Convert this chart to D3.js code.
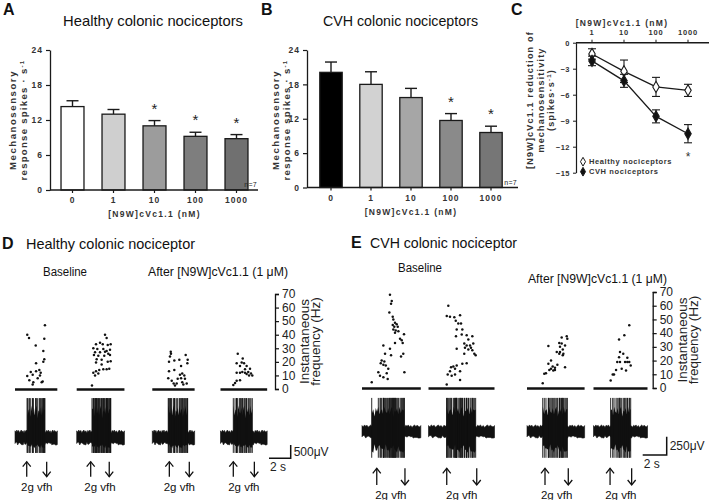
<!DOCTYPE html>
<html><head><meta charset="utf-8">
<script src="https://cdn.jsdelivr.net/npm/d3@7"></script>
<style>
body{margin:0;background:#fff}
svg{display:block}
text{font-family:Arial,"Liberation Sans",sans-serif}
</style>
</head><body><script>
// ---------------- DATA ----------------
const concLabels = ["0","1","10","100","1000"];
const barTicks = [0,6,12,18,24];
const healthyMean = [14.3,13.0,11.0,9.2,8.8];
const healthySem  = [1.0,0.8,0.9,0.7,0.7];
const healthySig  = [false,false,true,true,true];
const cvhMean = [20.1,18.0,15.7,11.7,9.6];
const cvhSem  = [1.8,2.2,1.6,1.2,1.1];
const cvhSig  = [false,false,false,true,true];
const healthyBarColors = ["#ffffff","#cfcfcf","#9c9c9c","#7e7e7e","#707070"];
const cvhBarColors = ["#000000","#d2d2d2","#a6a6a6","#8a8a8a","#767676"];

const reductionDoses = [1,10,100,1000];
const reductionDoseLabels = ["1","10","100","1000"];
const reductionTicks = [0,-3,-6,-9,-12,-15];
const healthyReduction = [-1.3,-3.3,-5.1,-5.5];
const healthyReductionSem = [0.6,1.3,1.1,0.7];
const cvhReduction = [-2.1,-4.4,-8.5,-10.5];
const cvhReductionSem = [0.55,0.75,0.75,1.05];

const freqTicks = [0,10,20,30,40,50,60,70];

// spike times (s from trace start) and instantaneous frequency (Hz)
const healthyRasters = [
 [[2.76,47],[1.13,40],[1.29,37.5],[2.70,37],[1.91,32],[2.61,28],[2.70,22],[2.61,20],[1.94,19],[2.24,14],[1.94,13],[2.37,12],[1.45,12.5],[1.63,10.5],[1.13,9.5],[2.30,10],[2.09,8],[1.32,6.5],[1.69,5],[2.55,5.5],[2.46,5],[1.63,3.3]],
 [[2.61,40],[2.76,37.5],[1.78,33],[2.15,34],[2.40,33],[2.86,32.5],[3.13,33],[1.53,30],[1.90,29.5],[2.45,29.5],[2.76,28],[3.07,29],[1.69,27],[2.15,27],[2.61,27.5],[2.91,26],[1.59,25],[1.99,24.5],[2.54,24.5],[3.07,25],[1.84,22],[2.30,21.5],[2.86,20],[3.13,20.5],[1.78,19.5],[2.30,18],[2.45,14.5],[2.76,14.5],[3.00,15],[2.08,14],[1.78,13],[1.53,12],[1.99,11.5],[1.69,10],[1.41,2.5]],
 [[1.70,27.5],[1.72,26],[1.63,24],[3.08,25],[1.54,20],[2.03,21],[2.49,21.5],[3.26,21.5],[3.23,19],[2.65,17],[1.54,13],[2.03,14],[2.76,11.5],[2.55,10.5],[2.95,10],[1.47,8],[2.34,7.5],[2.65,8],[3.01,7.5],[1.79,6],[2.76,5],[3.17,4],[1.97,4],[2.09,2.5],[2.25,4],[2.86,3.3]],
 [[1.59,26],[2.05,22.5],[1.49,19],[1.95,19.5],[2.17,19],[2.41,17],[1.80,17],[2.26,14.5],[2.72,15],[2.01,12.5],[1.80,12],[2.26,12],[2.56,12.5],[2.81,11.5],[2.93,10],[2.63,10],[2.41,11],[1.49,12],[1.80,6.5],[1.49,6],[1.34,4.5],[1.18,3]]
];
const cvhRasters = [
 [[2.33,68],[2.48,63.5],[2.42,61.5],[2.28,55],[2.56,52],[2.61,50],[2.75,47.5],[2.89,46.5],[2.56,46],[2.69,44.6],[2.98,44.6],[2.61,42.6],[2.81,42],[3.03,41.4],[2.75,40.2],[3.50,39.2],[3.17,36],[3.31,34.8],[3.39,32.8],[2.75,32.8],[1.78,31],[2.33,28.7],[2.42,23.8],[1.92,25],[3.44,25],[3.25,23],[1.64,20],[1.86,19.4],[1.56,18],[1.78,17],[1.98,16.4],[2.19,14],[1.36,11.5],[2.06,10.8],[3.53,11.5],[1.50,9],[1.78,7.8],[2.14,6.6],[0.81,4.2]],
 [[1.65,60],[1.52,52.5],[1.79,52],[2.15,51.5],[2.63,53],[2.27,49],[2.48,47],[2.71,47],[2.35,42.6],[2.82,42.6],[2.77,39],[2.29,37.7],[3.18,38.5],[3.65,37.7],[3.32,35.3],[2.98,32.4],[3.18,31],[3.46,31],[3.73,32.4],[3.04,29.4],[3.54,29.4],[3.32,28],[3.65,27.5],[3.82,25],[3.93,23.8],[2.98,25],[2.35,28.7],[3.18,18],[2.82,17.6],[2.35,16.4],[2.07,15.7],[1.88,15.2],[2.21,14],[1.79,12.2],[2.63,12.2],[1.60,9.8],[2.21,9.8],[1.93,9],[2.63,5.9],[1.52,2.5]],
 [[3.31,37.7],[3.36,36],[2.89,36.8],[2.69,32.8],[2.89,32.4],[3.17,31],[1.78,30.6],[2.75,30],[2.98,28],[2.48,26.2],[2.75,26.2],[3.03,25],[2.98,23.8],[2.69,25],[2.00,20],[1.78,17.6],[2.53,17],[3.17,15.2],[2.14,15.7],[2.33,14.7],[2.00,14],[2.33,13.2],[2.19,12.7],[1.86,13.2],[1.58,10.8],[1.44,10.3],[1.31,3.4]],
 [[2.98,45.8],[2.57,38.5],[2.13,35.3],[2.21,26.2],[2.48,25],[2.13,22.5],[2.82,22],[1.98,18.9],[2.21,18.9],[2.63,18.9],[2.82,18.9],[2.98,18.9],[3.10,16.4],[2.35,14],[2.71,12.7],[1.88,13.2],[1.71,9.8],[1.60,9.8],[1.43,5.4]]
];
const healthyDurations = [3.9,4.4,3.9,4.3];
const cvhDurations = [4.9,5.5,4.8,4.5];
const healthyStim = [[1.08,2.92],[1.29,3.00],[1.57,3.41],[1.18,3.12]];
const cvhStim = [[1.23,3.58],[1.52,4.02],[1.50,3.44],[1.38,3.18]];
// amplitudes in mV
const healthyAmp = {noise:0.28, burstUp:1.2, burstDown:0.4, spikeUp:1.48, spikeDown:0.58};
const cvhAmp = {noise:0.09, burstUp:0.34, burstDown:0.29, spikeUp:0.46, spikeDown:0.36};
const noiseEnvelope = [0.9,0.7,1.0,0.8,0.95,0.65,0.85,1.0,0.75,0.9,0.6,0.95,0.8,1.0,0.7,0.85,0.9,0.65,1.0,0.8,0.75,0.95,0.7,0.9,1.0,0.6,0.85,0.8,0.95,0.7,1.0,0.75,0.9,0.85,0.65,0.95,0.8,1.0,0.7,0.9,0.6,0.85,1.0,0.75,0.95,0.8,0.7,0.9];

// ---------------- DRAW ----------------
const svg = d3.select("body").append("svg").attr("width",709).attr("height",500);
const ink = "#1a1a1a";

function panelLetter(x,y,t){
  svg.append("text").attr("x",x).attr("y",y).text(t)
    .attr("font-size",16).attr("font-weight","bold").attr("fill","#111");
}
function title(x,y,t,size,anchor,len){
  const el = svg.append("text").attr("x",x).attr("y",y).text(t)
    .attr("font-family","Lato, 'Open Sans', sans-serif")
    .attr("font-size",size).attr("fill","#111").attr("text-anchor",anchor||"start");
  if(len) el.attr("textLength",len).attr("lengthAdjust","spacingAndGlyphs");
  return el;
}
function gpText(g,x,y,t,size,anchor,ls){
  return g.append("text").attr("x",x).attr("y",y).text(t)
    .attr("font-size",size).attr("font-weight","bold").attr("fill","#333")
    .attr("letter-spacing",ls==null?1:ls).attr("text-anchor",anchor||"middle");
}

function barPanel(opt){
  const g = svg.append("g");
  const x = d3.scaleBand().domain(concLabels).range(opt.xr).paddingInner(0.44).paddingOuter(0.22);
  const y = d3.scaleLinear().domain([0,24]).range([opt.y0,50]);
  const ya = g.append("g").attr("transform",`translate(${opt.ax},0)`)
    .call(d3.axisLeft(y).tickValues(barTicks).tickSize(4).tickSizeOuter(0).tickPadding(3));
  ya.select(".domain").attr("stroke",ink).attr("stroke-width",1.3);
  ya.selectAll(".tick line").attr("stroke",ink).attr("stroke-width",1.2);
  ya.selectAll("text").attr("font-size",8.5).attr("font-weight","bold").attr("fill","#333").attr("letter-spacing",1).attr("font-family","Arial");
  const data = opt.means.map((m,i)=>({c:concLabels[i],m,s:opt.sems[i],sig:opt.sig[i],col:opt.colors[i]}));
  g.selectAll(".eb").data(data).enter().append("line")
    .attr("x1",d=>x(d.c)+x.bandwidth()/2).attr("x2",d=>x(d.c)+x.bandwidth()/2)
    .attr("y1",d=>y(d.m)).attr("y2",d=>y(d.m+d.s)).attr("stroke",ink).attr("stroke-width",1.4);
  g.selectAll(".ec").data(data).enter().append("line")
    .attr("x1",d=>x(d.c)+x.bandwidth()/2-6).attr("x2",d=>x(d.c)+x.bandwidth()/2+6)
    .attr("y1",d=>y(d.m+d.s)).attr("y2",d=>y(d.m+d.s)).attr("stroke",ink).attr("stroke-width",1.4);
  g.selectAll(".bar").data(data).enter().append("rect")
    .attr("x",d=>x(d.c)).attr("width",x.bandwidth())
    .attr("y",d=>y(d.m)).attr("height",d=>y(0)-y(d.m))
    .attr("fill",d=>d.col).attr("stroke",ink).attr("stroke-width",1.3);
  g.selectAll(".star").data(data.filter(d=>d.sig)).enter().append("text")
    .attr("x",d=>x(d.c)+x.bandwidth()/2).attr("y",d=>y(d.m+d.s)-7)
    .attr("text-anchor","middle").attr("font-size",15).attr("fill","#222").text("*");
  g.append("line").attr("x1",opt.ax).attr("x2",opt.axEnd).attr("y1",y(0)).attr("y2",y(0))
    .attr("stroke",ink).attr("stroke-width",1.5);
  data.forEach(d=>{
    const cx = x(d.c)+x.bandwidth()/2;
    g.append("line").attr("x1",cx).attr("x2",cx).attr("y1",y(0)).attr("y2",y(0)+3).attr("stroke",ink).attr("stroke-width",1.2);
    gpText(g,cx,y(0)+13,d.c,8.5,"middle",1);
  });
  gpText(g,(opt.xr[0]+opt.xr[1])/2,y(0)+27,"[N9W]cVc1.1 (nM)",8.5,"middle",1.3);
  gpText(g,opt.axEnd-1,y(0)-3,"n=7",7,"end",0.3).attr("font-weight","normal").attr("fill","#222");
  const ly = 120;
  g.append("text").attr("transform",`translate(${opt.lx},${ly}) rotate(-90)`)
    .attr("text-anchor","middle").attr("font-size",9.5).attr("font-weight","bold").attr("fill","#333").attr("letter-spacing",1.6)
    .text("Mechanosensory");
  const l2 = g.append("text").attr("transform",`translate(${opt.lx+10.5},${ly}) rotate(-90)`)
    .attr("text-anchor","middle").attr("font-size",9.5).attr("font-weight","bold").attr("fill","#333").attr("letter-spacing",1.3);
  l2.append("tspan").text("response spikes · s");
  l2.append("tspan").attr("baseline-shift","super").attr("font-size",6).text("-1");
}

panelLetter(3,15,"A");
title(153,26,"Healthy colonic nociceptors",15,"middle",180);
barPanel({xr:[52,257],y0:190,ax:50,axEnd:258,means:healthyMean,sems:healthySem,sig:healthySig,colors:healthyBarColors,lx:16});

panelLetter(261,15,"B");
title(400.5,26,"CVH colonic nociceptors",15,"middle",155);
barPanel({xr:[311,511],y0:187.5,ax:307,axEnd:518,means:cvhMean,sems:cvhSem,sig:cvhSig,colors:cvhBarColors,lx:279});

// ---------- Panel C ----------
panelLetter(511,15,"C");
(function(){
  const g = svg.append("g");
  const x = d3.scaleLog().domain([1,1000]).range([592,688]);
  const y = d3.scaleLinear().domain([0,-15]).range([42.7,172.7]);
  const ax0 = 576;
  const ya = g.append("g").attr("transform",`translate(${ax0},0)`)
    .call(d3.axisLeft(y).tickValues(reductionTicks).tickSize(3).tickSizeOuter(0).tickPadding(3));
  ya.select(".domain").attr("stroke",ink).attr("stroke-width",1.2);
  ya.selectAll(".tick line").attr("stroke",ink);
  ya.selectAll("text").attr("font-size",7.5).attr("font-weight","bold").attr("fill","#333").attr("font-family","Arial").attr("letter-spacing",0.5);
  g.append("line").attr("x1",ax0).attr("x2",709).attr("y1",y(0)).attr("y2",y(0)).attr("stroke",ink).attr("stroke-width",1.5);
  reductionDoses.forEach((d,i)=>{
    g.append("line").attr("x1",x(d)).attr("x2",x(d)).attr("y1",y(0)).attr("y2",y(0)-3).attr("stroke",ink);
    gpText(g,x(d),y(0)-8,reductionDoseLabels[i],7.5,"middle",0.8);
  });
  gpText(g,622,26,"[N9W]cVc1.1 (nM)",8.5,"middle",1.3);
  const lines = ["[N9W]cVc1.1 reduction of","mechanosensitivity"];
  lines.forEach((t,i)=>{
    g.append("text").attr("transform",`translate(${533+i*10.5},${100}) rotate(-90)`)
      .attr("text-anchor","middle").attr("font-size",9).attr("font-weight","bold").attr("fill","#333").attr("letter-spacing",1.2).text(t);
  });
  const l3 = g.append("text").attr("transform",`translate(${554},${100}) rotate(-90)`)
      .attr("text-anchor","middle").attr("font-size",9).attr("font-weight","bold").attr("fill","#333").attr("letter-spacing",1.2);
  l3.append("tspan").text("(spikes·s");
  l3.append("tspan").attr("baseline-shift","super").attr("font-size",6).text("-1");
  l3.append("tspan").attr("baseline-shift","0").text(")");

  const diamond = d3.symbol().type(d3.symbolDiamond).size(36);
  function series(vals,sems,fill){
    const pts = reductionDoses.map((d,i)=>({d,v:vals[i],s:sems[i]}));
    pts.forEach(p=>{
      g.append("line").attr("x1",x(p.d)).attr("x2",x(p.d)).attr("y1",y(p.v+p.s)).attr("y2",y(p.v-p.s)).attr("stroke",ink).attr("stroke-width",1.1);
      [p.v+p.s,p.v-p.s].forEach(e=>g.append("line").attr("x1",x(p.d)-4).attr("x2",x(p.d)+4).attr("y1",y(e)).attr("y2",y(e)).attr("stroke",ink).attr("stroke-width",1.1));
    });
    g.append("path").datum(pts).attr("d",d3.line().x(p=>x(p.d)).y(p=>y(p.v)))
      .attr("fill","none").attr("stroke",ink).attr("stroke-width",1.3);
    g.selectAll(null).data(pts).enter().append("path").attr("d",diamond)
      .attr("transform",p=>`translate(${x(p.d)},${y(p.v)})`)
      .attr("fill",fill).attr("stroke",ink).attr("stroke-width",1.1);
  }
  series(healthyReduction,healthyReductionSem,"#fff");
  series(cvhReduction,cvhReductionSem,"#111");
  g.append("text").attr("x",x(1000)).attr("y",y(-12.9)+6).attr("text-anchor","middle").attr("font-size",12).attr("fill","#333").text("*");
  const lg = [["Healthy nociceptors","#fff",161.7],["CVH nociceptors","#111",171.7]];
  lg.forEach(l=>{
    g.append("path").attr("d",d3.symbol().type(d3.symbolDiamond).size(22)).attr("transform",`translate(583,${l[2]})`)
      .attr("fill",l[1]).attr("stroke",ink);
    gpText(g,589,l[2]+2.7,l[0],7.5,"start",0.6);
  });
})();

// ---------- Panels D & E ----------
function recordingPanel(opt){
  const g = svg.append("g");
  const ry = d3.scaleLinear().domain([0,70]).range(opt.freqRange);
  opt.rasters.forEach((spikes,i)=>{
    const dur = opt.durations[i];
    const x0 = opt.starts[i];
    const tx = d3.scaleLinear().domain([0,dur]).range([x0,x0+dur*opt.pxPerSec]);
    const vy = d3.scaleLinear().domain([-1,1]).range([opt.traceY+opt.pxPerMv,opt.traceY-opt.pxPerMv]);
    g.append("line").attr("x1",tx(0)).attr("x2",tx(dur)).attr("y1",ry(0)+0.5).attr("y2",ry(0)+0.5)
      .attr("stroke","#111").attr("stroke-width",2.4);
    g.selectAll(null).data(spikes).enter().append("circle")
      .attr("cx",d=>tx(d[0])).attr("cy",d=>ry(d[1])).attr("r",1.25).attr("fill","#111");
    const n = noiseEnvelope.length;
    const pts = noiseEnvelope.map((e,k)=>({t:dur*k/(n-1),u:e,l:noiseEnvelope[(k*7+3)%n]}));
    const a = opt.amp;
    g.append("path").datum(pts).attr("d",d3.area().x(p=>tx(p.t)).y0(p=>vy(-a.noise*p.l)).y1(p=>vy(a.noise*p.u)))
      .attr("fill","#111").attr("stroke","#111").attr("stroke-width",0.6);
    const ts = spikes.map(s=>s[0]);
    const t0 = d3.min(ts), t1 = d3.max(ts);
    const bpts = pts.filter(p=>p.t>=t0 && p.t<=t1);
    bpts.unshift({t:t0,u:0.9,l:0.9}); bpts.push({t:t1,u:0.9,l:0.9});
    g.append("path").datum(bpts).attr("d",d3.area().x(p=>tx(p.t)).y0(p=>vy(-a.burstDown*p.l)).y1(p=>vy(a.burstUp*p.u)))
      .attr("fill","#111");
    g.selectAll(null).data(spikes).enter().append("line")
      .attr("x1",d=>tx(d[0])).attr("x2",d=>tx(d[0]))
      .attr("y1",d=>vy(a.spikeUp)).attr("y2",d=>vy(-a.spikeDown))
      .attr("stroke","#111").attr("stroke-width",0.9);
    const st = opt.stim[i];
    const [ay0,ay1] = opt.arrowY;
    [[st[0],"up"],[st[1],"down"]].forEach(([t,dir])=>{
      const ax = tx(t);
      g.append("line").attr("x1",ax).attr("x2",ax).attr("y1",ay0).attr("y2",ay1).attr("stroke","#111").attr("stroke-width",1.3);
      const tip = dir==="up"?ay0:ay1, s = dir==="up"?1:-1;
      g.append("path").attr("d",`M${ax-4},${tip+5*s}L${ax},${tip}L${ax+4},${tip+5*s}`)
        .attr("fill","none").attr("stroke","#111").attr("stroke-width",1.3);
    });
    g.append("text").attr("x",(tx(st[0])+tx(st[1]))/2).attr("y",opt.vfhY).attr("text-anchor","middle")
      .attr("font-size",11.5).attr("fill","#111").text("2g vfh");
  });
  const fa = g.append("g").attr("transform",`translate(${opt.axisX},0)`)
    .call(d3.axisRight(ry).tickValues(freqTicks).tickSize(4).tickPadding(3));
  fa.select(".domain").attr("stroke","#111").attr("stroke-width",1.3);
  fa.selectAll(".tick line").attr("stroke","#111").attr("stroke-width",1.2);
  fa.selectAll("text").attr("font-size",12).attr("fill","#222").attr("font-family","Arial");
  const cy = (opt.freqRange[0]+opt.freqRange[1])/2;
  ["Instantaneous","frequency (Hz)"].forEach((t,k)=>{
    g.append("text").attr("transform",`translate(${opt.axisX+34+k*11},${cy}) rotate(-90)`)
      .attr("text-anchor","middle").attr("font-size",13.5).attr("fill","#222").text(t);
  });
  const sb = opt.scaleBar;
  const sbx = sb.x, sby = sb.y;
  g.append("path").attr("d",`M${sbx-2*opt.pxPerSec},${sby}H${sbx}V${sby-sb.mv*opt.pxPerMv}`)
    .attr("fill","none").attr("stroke","#111").attr("stroke-width",1.5);
  g.append("text").attr("x",sbx+3).attr("y",sby-sb.mv*opt.pxPerMv/2+4.5).attr("font-size",12).attr("fill","#222").text(sb.label);
  g.append("text").attr("x",sbx-2*opt.pxPerSec+1).attr("y",sby+13).attr("font-size",12).attr("fill","#222").text("2 s");
}

panelLetter(2,249,"D");
title(26,249,"Healthy colonic nociceptor",15,"start",169);
title(43,276,"Baseline",12,"start",44);
title(148,276,"After [N9W]cVc1.1 (1 μM)",12,"start",140);
recordingPanel({rasters:healthyRasters,durations:healthyDurations,stim:healthyStim,amp:healthyAmp,
  starts:[15,76.7,152.3,220.5],pxPerSec:10.85,pxPerMv:26.6,traceY:437.5,freqRange:[389,294],
  arrowY:[461.7,476.7],vfhY:491,axisX:275,scaleBar:{x:290.7,y:458.3,mv:0.5,label:"500μV"}});

panelLetter(351,248,"E");
title(370,248,"CVH colonic nociceptor",15,"start",147);
title(398,272,"Baseline",12,"start",44);
title(528,283,"After [N9W]cVc1.1 (1 μM)",12,"start",139);
recordingPanel({rasters:cvhRasters,durations:cvhDurations,stim:cvhStim,amp:cvhAmp,
  starts:[362,428.5,527,593.5],pxPerSec:12,pxPerMv:73,traceY:431.5,freqRange:[388,292],
  arrowY:[468.3,485],vfhY:499,axisX:652.7,scaleBar:{x:666.7,y:455,mv:0.25,label:"250μV"}});
</script></body></html>
